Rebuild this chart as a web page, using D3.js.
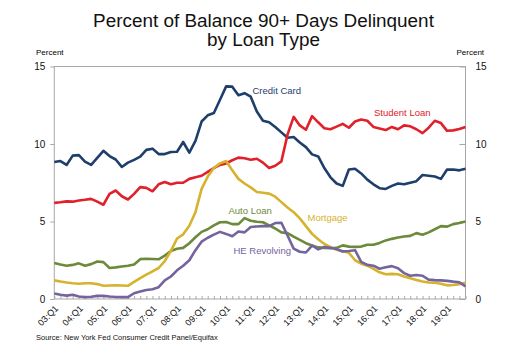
<!DOCTYPE html>
<html>
<head>
<meta charset="utf-8">
<script src="https://cdn.jsdelivr.net/npm/d3@7"></script>
<style>
  body { margin: 0; background: #fff; }
  svg { display: block; font-family: "Liberation Sans", Arial, sans-serif; }
</style>
</head>
<body>
<svg id="chart" width="515" height="347"></svg>
<script>
// [A] Datos -------------------------------------------------------------
// Trimestres 03:Q1 .. 19:Q4
const years = d3.range(3, 20).map(y => String(y).padStart(2, "0"));
const quarters = years.flatMap(y => ["Q1", "Q2", "Q3", "Q4"].map(q => `${y}:${q}`));
const tickLabels = years.map(y => `${y}:Q1`);

const creditCard = [8.84, 8.9, 8.65, 9.25, 9.28, 8.86, 8.65, 9.1, 9.56, 9.22, 9.0, 8.52,
  8.8, 8.98, 9.18, 9.62, 9.7, 9.35, 9.35, 9.48, 9.5, 10.13, 9.44, 10.2,
  11.45, 11.85, 12.0, 12.85, 13.72, 13.7, 13.15, 13.28, 13.05, 12.1, 11.5, 11.4,
  11.1, 10.75, 10.4, 10.45, 10.1, 9.8, 9.33, 9.2, 8.45, 7.85, 7.45, 7.3,
  8.35, 8.4, 8.1, 7.7, 7.4, 7.15, 7.1, 7.3, 7.45, 7.4, 7.5, 7.6,
  8.0, 7.95, 7.9, 7.75, 8.35, 8.35, 8.3, 8.4];

const studentLoan = [6.2, 6.24, 6.3, 6.28, 6.35, 6.4, 6.46, 6.28, 6.08, 6.78, 7.0, 6.63,
  6.42, 6.78, 7.22, 7.17, 6.95, 7.4, 7.55, 7.4, 7.5, 7.5, 7.75, 7.85,
  7.95, 8.2, 8.45, 8.65, 8.75, 8.95, 9.12, 9.08, 8.98, 9.05, 8.8, 8.45,
  8.6, 8.88, 10.6, 11.75, 11.2, 10.92, 11.8, 11.4, 11.02, 10.95, 11.12, 11.3,
  11.05, 11.45, 11.58, 11.5, 11.1, 11.0, 10.9, 11.1, 10.95, 11.2, 11.14, 10.95,
  10.7, 11.05, 11.5, 11.35, 10.85, 10.88, 10.97, 11.1];

const mortgage = [1.2, 1.13, 1.07, 1.02, 0.98, 1.02, 1.02, 0.96, 0.85, 0.87, 0.89, 0.87,
  0.85, 1.1, 1.35, 1.57, 1.78, 2.0, 2.45, 3.1, 3.9, 4.17, 4.72, 5.6,
  7.1, 7.9, 8.45, 8.75, 8.9, 8.3, 7.75, 7.45, 7.2, 6.9, 6.85, 6.8,
  6.6, 6.25, 5.9, 5.6, 5.2, 4.7, 4.2, 3.85, 3.55, 3.35, 3.18, 3.08,
  2.98, 2.5, 2.28, 2.15, 1.95, 1.72, 1.6, 1.62, 1.6, 1.45, 1.34, 1.23,
  1.13, 1.06, 1.05, 0.98, 0.88, 0.9, 0.96, 1.04];

const autoLoan = [2.33, 2.22, 2.15, 2.2, 2.3, 2.15, 2.25, 2.42, 2.38, 2.0, 2.04, 2.1,
  2.15, 2.22, 2.57, 2.6, 2.58, 2.56, 2.8, 3.1, 3.24, 3.3, 3.6, 3.98,
  4.33, 4.5, 4.75, 4.95, 4.97, 4.83, 4.83, 5.22, 5.05, 4.98, 4.95, 4.75,
  4.55, 4.3, 4.25, 4.02, 3.82, 3.6, 3.45, 3.33, 3.3, 3.27, 3.3, 3.46,
  3.38, 3.36, 3.38, 3.5, 3.5, 3.62, 3.78, 3.88, 3.97, 4.03, 4.07, 4.25,
  4.15, 4.3, 4.5, 4.7, 4.67, 4.83, 4.9, 5.0];

const heRevolving = [0.35, 0.27, 0.22, 0.27, 0.16, 0.12, 0.15, 0.2, 0.2, 0.16, 0.13, 0.12,
  0.12, 0.37, 0.48, 0.58, 0.63, 0.76, 1.2, 1.45, 1.85, 2.15, 2.5, 3.15,
  3.7, 3.95, 4.15, 4.33, 4.2, 4.05, 4.35, 4.3, 4.65, 4.68, 4.7, 4.7,
  4.9, 4.92, 4.1, 3.25, 3.05, 3.0, 3.45, 3.2, 3.35, 3.3, 3.22, 3.07,
  3.1, 3.15, 2.4, 2.2, 2.15, 1.95, 2.05, 2.12, 1.98, 1.67, 1.5, 1.55,
  1.5, 1.25, 1.22, 1.2, 1.17, 1.12, 1.08, 0.82];

const yTicks = [0, 5, 10, 15];

// [B] Configuracion ---------------------------------------------------------
const svg = d3.select("#chart");
const plot = { left: 54.3, right: 465.5, top: 66.5, bottom: 299 };

const x = d3.scaleLinear().domain([0, quarters.length - 1]).range([plot.left, plot.right]);
const y = d3.scaleLinear().domain([0, 15]).range([plot.bottom, plot.top]);

const series = [
  { name: "Credit Card", values: creditCard, color: "#1f3e6c", lx: 252.5, ly: 93.5 },
  { name: "Student Loan", values: studentLoan, color: "#e0202a", lx: 374, ly: 115.5 },
  { name: "Auto Loan", values: autoLoan, color: "#6c8a3a", lx: 228.5, ly: 214 },
  { name: "Mortgage", values: mortgage, color: "#d6b22e", lx: 307.5, ly: 220.5 },
  { name: "HE Revolving", values: heRevolving, color: "#74649e", lx: 233.5, ly: 254 }
];

// [C] Titulo ---------------------------------------------------------------
svg.append("text")
  .attr("x", 263.5).attr("y", 27)
  .attr("text-anchor", "middle")
  .attr("font-size", 18.9).attr("fill", "#111")
  .text("Percent of Balance 90+ Days Delinquent");
svg.append("text")
  .attr("x", 263.5).attr("y", 46)
  .attr("text-anchor", "middle")
  .attr("font-size", 18.9).attr("fill", "#111")
  .text("by Loan Type");

svg.append("text").attr("x", 36).attr("y", 55).attr("font-size", 8).text("Percent");
svg.append("text").attr("x", 456.5).attr("y", 55).attr("font-size", 8).text("Percent");

// [D] Ejes -----------------------------------------------------------------
svg.append("rect")
  .attr("x", plot.left).attr("y", plot.top)
  .attr("width", plot.right - plot.left).attr("height", plot.bottom - plot.top)
  .attr("fill", "none").attr("stroke", "#a8a8a8").attr("stroke-width", 1);

const yLeft = svg.append("g")
  .attr("transform", `translate(${plot.left},0)`)
  .call(d3.axisLeft(y).tickValues(yTicks).tickSize(4).tickPadding(5));
const yRight = svg.append("g")
  .attr("transform", `translate(${plot.right},0)`)
  .call(d3.axisRight(y).tickValues(yTicks).tickSize(0).tickPadding(10));
[yLeft, yRight].forEach(g => {
  g.select(".domain").remove();
  g.selectAll("line").attr("stroke", "#a8a8a8");
  g.selectAll("text").attr("font-size", 10).attr("fill", "#111")
    .style("font-family", "'Liberation Sans', Arial, sans-serif");
});
yRight.selectAll(".tick").append("line")
  .attr("x1", -6).attr("x2", 0).attr("stroke", "#a8a8a8");

// ticks trimestrales hacia dentro
const xMinor = svg.append("g")
  .attr("transform", `translate(0,${plot.bottom})`)
  .call(d3.axisTop(x).tickValues(d3.range(quarters.length)).tickSize(3).tickFormat(""));
xMinor.select(".domain").remove();
xMinor.selectAll("line").attr("stroke", "#a8a8a8");

// etiquetas rotadas
const xLabels = svg.append("g")
  .attr("transform", `translate(0,${plot.bottom})`)
  .call(d3.axisBottom(x)
    .tickValues(tickLabels.map(t => quarters.indexOf(t)))
    .tickSize(0)
    .tickFormat(i => quarters[i]));
xLabels.select(".domain").remove();
xLabels.selectAll("text")
  .attr("font-size", 9).attr("fill", "#111")
  .style("font-family", "'Liberation Sans', Arial, sans-serif")
  .attr("text-anchor", "end")
  .attr("dy", 0)
  .attr("transform", "translate(2,8) rotate(-45)");

// [E] Lineas ---------------------------------------------------------------
const line = d3.line()
  .x((d, i) => x(i))
  .y(d => y(d));

svg.append("g").selectAll("path")
  .data(series)
  .join("path")
  .attr("d", d => line(d.values))
  .attr("fill", "none")
  .attr("stroke", d => d.color)
  .attr("stroke-width", 2.6)
  .attr("stroke-linejoin", "round");

svg.append("g").selectAll("text")
  .data(series)
  .join("text")
  .attr("x", d => d.lx).attr("y", d => d.ly)
  .attr("font-size", 9.5)
  .attr("fill", d => d.color)
  .text(d => d.name);

// [F] Fuente ---------------------------------------------------------------
svg.append("text")
  .attr("x", 36).attr("y", 340)
  .attr("font-size", 7.5).attr("fill", "#111")
  .text("Source: New York Fed Consumer Credit Panel/Equifax");
</script>
</body>
</html>
